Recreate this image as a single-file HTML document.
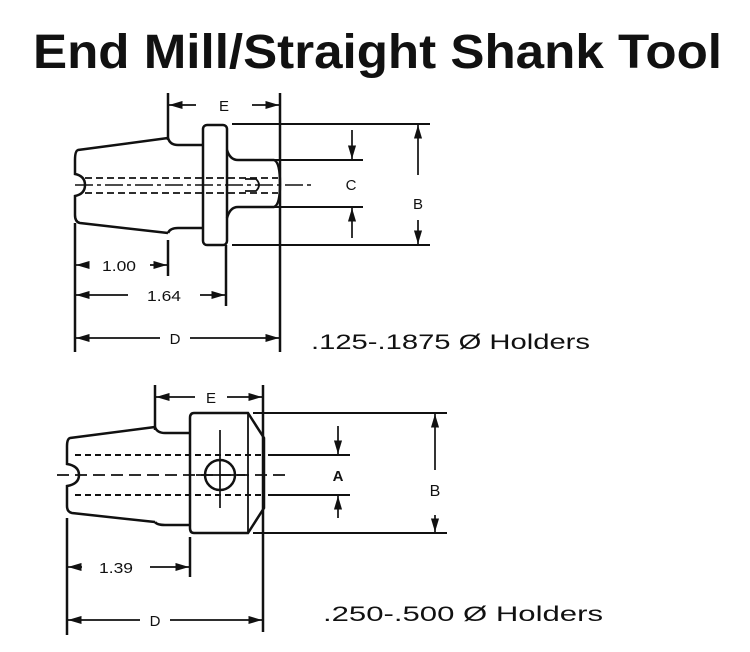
<!DOCTYPE html>
<html><head><meta charset="utf-8"><style>
html,body{margin:0;padding:0;background:#fff;}
svg{display:block;}
</style></head><body>
<svg width="750" height="652" viewBox="0 0 750 652" xmlns="http://www.w3.org/2000/svg" font-family="Liberation Sans, sans-serif">
<defs>
<marker id="ar" viewBox="0 0 10 6" refX="10" refY="3" markerWidth="8" markerHeight="5" orient="auto-start-reverse"><path d="M0,0 L10,3 L0,6 z" fill="#111"/></marker>
</defs>
<text x="33" y="68" font-size="48" font-weight="bold" textLength="689" lengthAdjust="spacingAndGlyphs" fill="#111">End Mill/Straight Shank Tool</text>

<g stroke="#111" stroke-width="2.5" fill="none">
<path d="M168,138 L78,150 Q75,151 75,160 L75,174 Q85,176 85,185 Q85,194 75,196 L75,215 Q75,222 80,223 L168,233"/>
<path d="M168,138 Q170,145 178,145 L203,145 M168,233 Q170,228 178,228 L203,228"/>
<rect x="203" y="125" width="24" height="120" rx="4"/>
<path d="M227,150 Q230,160 238,160 L274,160 Q280,162 280,184 Q280,205 274,207 L238,207 Q230,207 227,218"/>
<g stroke-width="1.8" stroke-dasharray="7,4"><line x1="85" y1="178" x2="278" y2="178"/><line x1="85" y1="193" x2="278" y2="193"/></g>
<line x1="75" y1="185" x2="315" y2="185" stroke-width="1.6" stroke-dasharray="18,4,4,4"/>
<path d="M245,179 L256,179 Q262,185 256,191 L245,191" stroke-width="1.8"/>
<line x1="168" y1="93" x2="168" y2="140"/>
<line x1="280" y1="93" x2="280" y2="352"/>
<line x1="168" y1="240" x2="168" y2="276"/>
<line x1="226" y1="245" x2="226" y2="306"/>
<line x1="75" y1="223" x2="75" y2="352"/>
<line x1="232" y1="124" x2="430" y2="124" stroke-width="2"/>
<line x1="232" y1="245" x2="430" y2="245" stroke-width="2"/>
<line x1="238" y1="160" x2="363" y2="160" stroke-width="2"/>
<line x1="238" y1="207" x2="363" y2="207" stroke-width="2"/>
<g stroke-width="1.7" marker-end="url(#ar)">
<line x1="196" y1="105" x2="169" y2="105"/><line x1="252" y1="105" x2="279" y2="105"/>
<line x1="352" y1="130" x2="352" y2="159"/><line x1="352" y1="238" x2="352" y2="208"/>
<line x1="418" y1="175" x2="418" y2="125"/><line x1="418" y1="220" x2="418" y2="244"/>
<line x1="88" y1="265" x2="76" y2="265"/><line x1="150" y1="265" x2="167" y2="265"/>
<line x1="128" y1="295" x2="76" y2="295"/><line x1="200" y1="295" x2="225" y2="295"/>
<line x1="160" y1="338" x2="76" y2="338"/><line x1="190" y1="338" x2="279" y2="338"/>
</g>

<path d="M155,427 L70,438 Q67,439 67,446 L67,464 Q79,466 79,475 Q79,484 67,486 L67,506 Q67,512 72,513 L155,522"/>
<path d="M155,427 Q157,433 165,433 L190,433 M155,522 Q157,525 165,525 L190,525"/>
<path d="M194,413 L248,413 L264,438 L264,508 L248,533 L194,533 Q190,533 190,528 L190,418 Q190,413 194,413 Z"/>
<line x1="248" y1="413" x2="248" y2="533" stroke-width="1.8"/>
<circle cx="220" cy="475" r="15"/>
<line x1="220" y1="430" x2="220" y2="508" stroke-width="1.7"/>
<line x1="196" y1="475" x2="245" y2="475" stroke-width="1.7"/>
<g stroke-width="2" stroke-dasharray="6,4"><line x1="75" y1="455" x2="263" y2="455"/><line x1="75" y1="495" x2="263" y2="495"/></g>
<line x1="57" y1="475" x2="288" y2="475" stroke-width="1.8" stroke-dasharray="12,6"/>
<line x1="155" y1="385" x2="155" y2="430"/>
<line x1="263" y1="385" x2="263" y2="632"/>
<line x1="190" y1="537" x2="190" y2="577"/>
<line x1="67" y1="518" x2="67" y2="635"/>
<line x1="253" y1="413" x2="447" y2="413" stroke-width="2"/>
<line x1="253" y1="533" x2="447" y2="533" stroke-width="2"/>
<line x1="268" y1="455" x2="350" y2="455" stroke-width="2"/>
<line x1="268" y1="495" x2="350" y2="495" stroke-width="2"/>
<g stroke-width="1.7" marker-end="url(#ar)">
<line x1="195" y1="397" x2="156" y2="397"/><line x1="227" y1="397" x2="262" y2="397"/>
<line x1="338" y1="426" x2="338" y2="454"/><line x1="338" y1="518" x2="338" y2="496"/>
<line x1="435" y1="470" x2="435" y2="414"/><line x1="435" y1="515" x2="435" y2="532"/>
<line x1="82" y1="567" x2="68" y2="567"/><line x1="150" y1="567" x2="189" y2="567"/>
<line x1="140" y1="620" x2="68" y2="620"/><line x1="170" y1="620" x2="262" y2="620"/>
</g>
</g>

<g fill="#111" font-size="15" text-anchor="middle">
<text x="224" y="111">E</text>
<text x="351" y="190">C</text>
<text x="418" y="209">B</text>
<text x="119" y="271" textLength="34" lengthAdjust="spacingAndGlyphs">1.00</text>
<text x="164" y="301" textLength="34" lengthAdjust="spacingAndGlyphs">1.64</text>
<text x="175" y="344">D</text>
<text x="211" y="403">E</text>
<text x="338" y="481" font-weight="bold">A</text>
<text x="435" y="496" font-size="16">B</text>
<text x="116" y="573" textLength="34" lengthAdjust="spacingAndGlyphs">1.39</text>
<text x="155" y="626">D</text>
</g>
<g fill="#111" font-size="21">
<text x="311" y="349" textLength="279" lengthAdjust="spacingAndGlyphs">.125-.1875  Ø  Holders</text>
<text x="323" y="621" textLength="280" lengthAdjust="spacingAndGlyphs">.250-.500  Ø  Holders</text>
</g>
</svg>
</body></html>
